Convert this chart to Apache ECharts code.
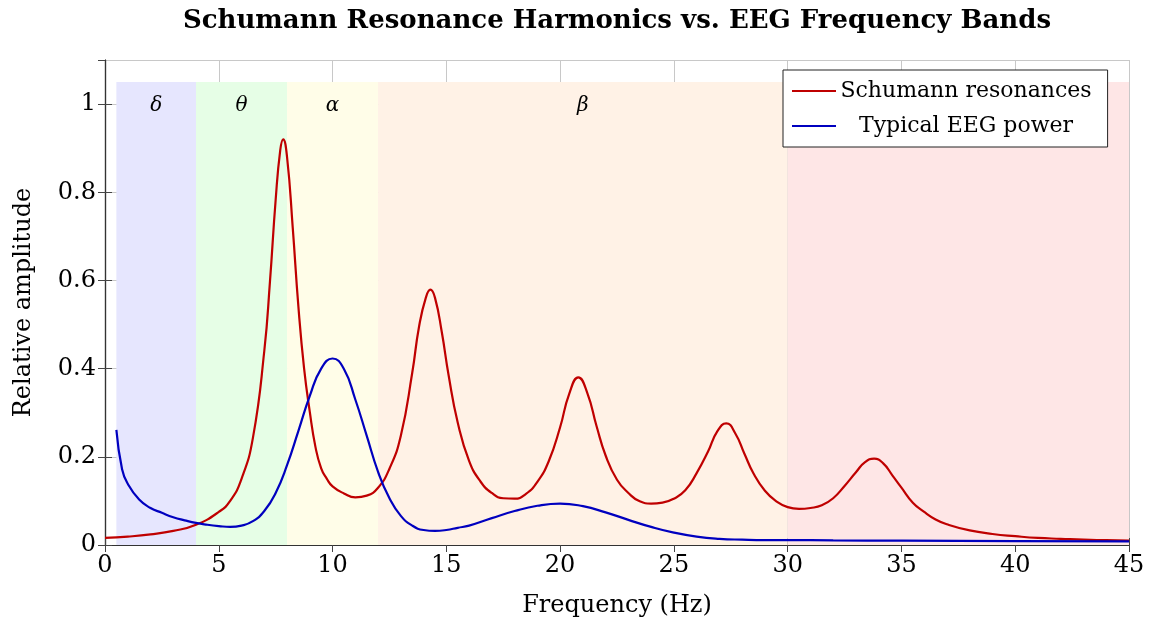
<!DOCTYPE html>
<html>
<head>
<meta charset="utf-8">
<script src="https://cdn.jsdelivr.net/npm/echarts@6/dist/echarts.min.js"></script>
<style>html,body{margin:0;padding:0;background:#fff}#chart{width:1150px;height:626px}</style>
</head>
<body>
<div id="chart"></div>
<script>
const titleText = 'Schumann Resonance Harmonics vs. EEG Frequency Bands';
const xTitle = 'Frequency (Hz)';
const yTitle = 'Relative amplitude';
const seriesNames = ['Schumann resonances', 'Typical EEG power'];

const bandLabels = ['δ', 'θ', 'α', 'β', ''];
const bandStart = [0.5, 4, 8, 12, 30];
const bandEnd = [4, 8, 12, 30, 45];
const bandTop = 1.05;
const bandColors = ['#e6e6fe', '#e6fee6', '#fffde8', '#fff2e6', '#fee6e6'];

const schumannFreq = [0,1,2,3,4,5,5.5,6,6.5,7,7.25,7.5,7.7,7.83,8,8.25,8.5,8.75,9,9.25,9.5,9.75,10,10.5,11,11.5,12,12.5,13,13.5,13.8,14.1,14.3,14.5,14.8,15.1,15.5,16,16.5,17,17.5,18,18.5,19,19.5,20,20.4,20.8,21.2,21.6,22,22.5,23,23.5,24,24.5,25,25.5,26,26.5,26.9,27.3,27.7,28.1,28.5,29,29.5,30,30.5,31,31.5,32,32.5,33,33.4,33.8,34.2,34.6,35,35.5,36,36.5,37,38,39,40,41,42,43,44,45];
const schumannAmp = [0.016,0.019,0.024,0.032,0.046,0.075,0.100,0.150,0.243,0.440,0.598,0.783,0.895,0.920,0.880,0.720,0.540,0.400,0.302,0.222,0.174,0.150,0.133,0.117,0.108,0.112,0.130,0.173,0.248,0.390,0.495,0.561,0.579,0.561,0.483,0.385,0.278,0.191,0.144,0.118,0.106,0.105,0.116,0.143,0.190,0.267,0.343,0.380,0.344,0.270,0.203,0.148,0.118,0.099,0.094,0.096,0.105,0.124,0.163,0.212,0.257,0.276,0.253,0.207,0.162,0.123,0.099,0.086,0.082,0.084,0.090,0.106,0.134,0.165,0.188,0.196,0.185,0.158,0.130,0.096,0.075,0.058,0.047,0.033,0.025,0.020,0.016,0.014,0.012,0.011,0.010];

const eegFreq = [0.5,0.75,1,1.5,2,2.5,3,3.5,4,4.5,5,5.5,6,6.5,7,7.5,8,8.5,9,9.5,10,10.5,11,11.5,12,12.5,13,13.5,14,14.5,15,15.5,16,17,18,19,20,21,22,23,24,25,26,27,28,29,30,32,35,40,45];
const eegAmp = [0.261,0.172,0.139,0.103,0.084,0.073,0.063,0.056,0.050,0.046,0.043,0.041,0.044,0.054,0.077,0.118,0.181,0.259,0.338,0.400,0.423,0.399,0.330,0.248,0.166,0.106,0.066,0.044,0.034,0.032,0.034,0.039,0.044,0.061,0.077,0.089,0.094,0.088,0.074,0.057,0.041,0.028,0.019,0.014,0.012,0.011,0.011,0.0105,0.0098,0.009,0.0084];

const xTicks = {min: 0, max: 45, interval: 5};
const yTicks = {min: 0, max: 1.1, interval: 0.2};

const serif = 'DejaVu Serif';
const chart = echarts.init(document.getElementById('chart'), null, {renderer: 'canvas'});

const bandAreas = bandLabels.map((lab, i) => [
  {xAxis: bandStart[i], yAxis: 0, name: lab, itemStyle: {color: bandColors[i]}},
  {xAxis: bandEnd[i], yAxis: bandTop}
]);

const commonAxisLine = {show: true, lineStyle: {color: '#333', width: 1.2}};

const option = {
  animation: false,
  backgroundColor: '#ffffff',
  graphic: [{
    type: 'text', x: 617, y: 21,
    style: {text: titleText, font: 'bold 26px "DejaVu Serif"', fill: '#000', textAlign: 'center', textVerticalAlign: 'middle'}
  }],
  grid: {left: 105, right: 21, top: 60, bottom: 81, containLabel: false},
  legend: {
    orient: 'vertical', left: 783, top: 70,
    padding: [6, 16, 6, 9], itemGap: 5,
    icon: 'rect', itemWidth: 44, itemHeight: 2,
    backgroundColor: '#fff', borderColor: '#222', borderWidth: 1, borderRadius: 0,
    formatter: n => '{t|' + n + '}',
    textStyle: {fontFamily: serif, fontSize: 22, color: '#000', lineHeight: 30,
      rich: {t: {fontFamily: serif, fontSize: 22, width: 250, align: 'center', lineHeight: 30}}},
    data: seriesNames,
    z: 10
  },
  xAxis: [{
    type: 'value', min: xTicks.min, max: xTicks.max, interval: xTicks.interval,
    name: xTitle, nameLocation: 'middle', nameGap: 49,
    nameTextStyle: {fontFamily: serif, fontSize: 24, color: '#000'},
    axisLine: commonAxisLine,
    axisTick: {show: true, inside: true, length: 7, lineStyle: {color: '#444'}},
    axisLabel: {fontFamily: serif, fontSize: 24, color: '#000', margin: 9},
    splitLine: {show: true, lineStyle: {color: '#c8c8c8', width: 1}}
  }, {
    type: 'value', position: 'top', min: xTicks.min, max: xTicks.max, interval: xTicks.interval,
    axisLine: commonAxisLine,
    axisTick: {show: true, inside: true, length: 7, lineStyle: {color: '#444'}},
    axisLabel: {show: false}, splitLine: {show: false}
  }],
  yAxis: [{
    type: 'value', min: yTicks.min, max: yTicks.max, interval: yTicks.interval,
    name: yTitle, nameLocation: 'middle', nameGap: 69, nameRotate: 90,
    nameTextStyle: {fontFamily: serif, fontSize: 24, color: '#000'},
    axisLine: commonAxisLine,
    axisTick: {show: true, inside: true, length: 7, lineStyle: {color: '#444'}},
    axisLabel: {fontFamily: serif, fontSize: 24, color: '#000', margin: 9, showMaxLabel: false},
    splitLine: {show: true, lineStyle: {color: '#c8c8c8', width: 1}}
  }, {
    type: 'value', position: 'right', min: yTicks.min, max: yTicks.max, interval: yTicks.interval,
    axisLine: commonAxisLine,
    axisTick: {show: true, inside: true, length: 7, lineStyle: {color: '#444'}},
    axisLabel: {show: false}, splitLine: {show: false}
  }],
  series: [{
    name: 'bands', type: 'line', data: [], z: 1, silent: true,
    markArea: {
      silent: true,
      label: {show: true, position: 'insideTop', distance: 14, fontFamily: serif, fontStyle: 'italic', fontSize: 20, color: '#000'},
      data: bandAreas
    }
  }, {
    name: seriesNames[0], type: 'line', z: 3,
    data: schumannFreq.map((f, i) => [f, schumannAmp[i]]),
    smooth: 0.5, symbol: 'none',
    itemStyle: {color: '#bf0000'},
    lineStyle: {color: '#bf0000', width: 2.2}
  }, {
    name: seriesNames[1], type: 'line', z: 3,
    data: eegFreq.map((f, i) => [f, eegAmp[i]]),
    smooth: 0.5, symbol: 'none',
    itemStyle: {color: '#0000bf'},
    lineStyle: {color: '#0000bf', width: 2.2}
  }]
};
chart.setOption(option);
</script>
</body>
</html>
